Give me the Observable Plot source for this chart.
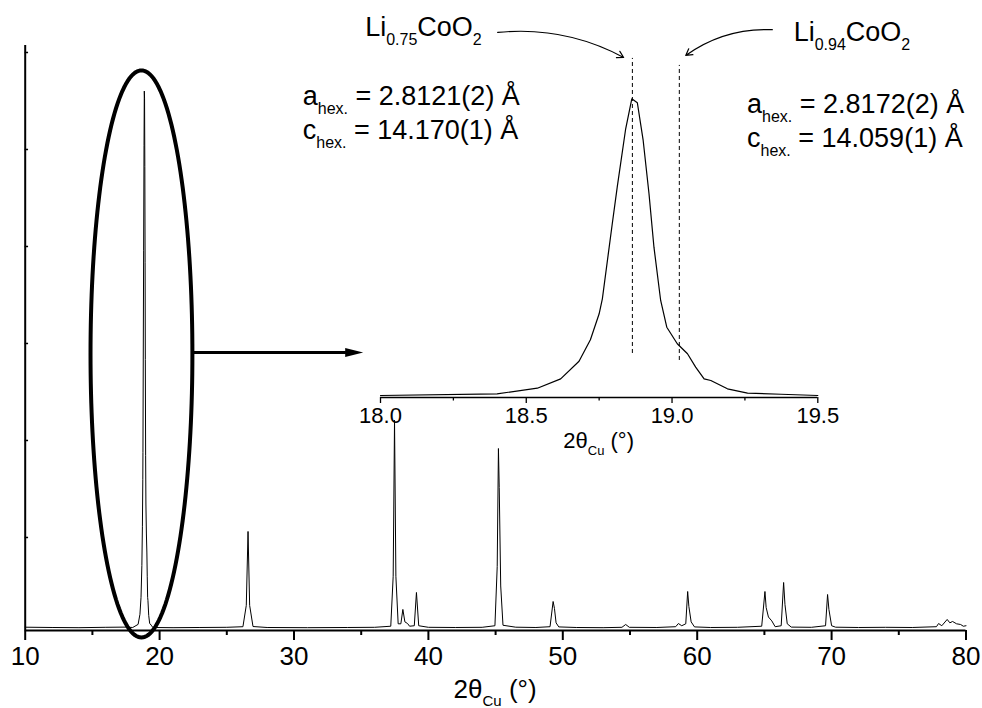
<!DOCTYPE html>
<html><head><meta charset="utf-8">
<script src="https://cdn.jsdelivr.net/npm/d3@7"></script>
<script src="https://cdn.jsdelivr.net/npm/@observablehq/plot@0.6"></script>
<style>
body{margin:0;background:#fff;}
#wrap{position:relative;width:982px;height:708px;font-family:"Liberation Sans",Arial,sans-serif;}
#wrap svg{position:absolute;left:0;top:0;overflow:visible;}
text{white-space:pre;}
</style></head><body><div id="wrap"></div>
<script>
const FONT = '"Liberation Sans", Arial, sans-serif';

// XRD pattern: 2θ (°) and intensity (counts, arbitrary)
const twoTheta = [10.0,12.0,14.0,16.0,17.5,
  18.0,18.4,18.538,18.618,18.681,18.72,18.75,18.761,18.795,18.812,18.841,18.862,18.881,18.901,18.921,18.938,18.961,18.982,19.018,19.053,19.081,19.11,19.133,19.19,19.259,19.374,19.5,
  21,23,25,26.2,26.45,26.58,26.7,26.95,28,31,34,36,
  37.2,37.38,37.48,37.58,37.75,37.95,38.1,38.25,38.45,38.6,38.95,39.11,39.28,40,42,44,
  44.95,45.12,45.21,45.27,45.38,45.55,46.5,48,
  49.05,49.28,49.38,49.5,49.7,51,53,54.4,54.68,54.95,57,
  58.4,58.6,58.85,59.15,59.29,59.38,59.55,59.8,61,63,
  64.8,65.04,65.13,65.3,65.55,65.8,66.25,66.43,66.53,66.7,67,68.5,
  69.55,69.70,69.80,70.0,70.3,72,74,76,
  77.8,77.96,78.2,78.6,78.8,79.0,79.3,79.6,79.8,80];
const intensity = [75,72,70,74,76,
  72,104,208,383,711,1110,1595,1874,3273,3955,5043,5602,5528,4825,3832,2836,1843,1345,1036,850,601,383,352,197,115,96,72,
  70,72,74,80,300,1062,300,82,72,70,72,74,
  85,600,2210,600,110,110,258,130,113,85,90,433,90,74,72,74,
  90,700,1917,1515,500,95,75,72,
  80,340,268,120,78,72,70,74,103,74,72,
  80,113,90,110,443,289,130,78,72,74,
  85,443,278,180,140,80,90,536,309,110,76,74,
  90,412,258,90,75,72,74,72,
  80,113,90,155,120,134,110,103,85,90];

// main axes
const mainXDomain = [10, 80];
const mainYDomain = [41, 6072];
const majorTicks = [10, 20, 30, 40, 50, 60, 70, 80];
const minorTicks = [15, 25, 35, 45, 55, 65, 75];
const yTicks = [1000, 2000, 3000, 4000, 5000, 6000];

// inset axes
const insetXDomain = [18, 19.5];
const insetYDomain = [35, 6315];
const insetMajor = [18.0, 18.5, 19.0, 19.5];
const insetMinor = [18.25, 18.75, 19.25];

// dashed reflection positions of the two phases
const phaseNames = ["Li0.75CoO2", "Li0.94CoO2"];
const phasePos = [18.864, 19.025];
const phaseTop = [6354, 6223];
const phaseBottom = [855, 725];

// annotation ellipse (main plot units) and arrow
const ellipseCenter = [18.65, 2892];
const ellipseRadii = [3.79, 2923];
const zoomArrow = {x1: 22.51, x2: 33.9, head: 34.48, y: 2907};

// curved arrows (inset units)
const curveArrows = [
  {x1: 18.402, y1: 6838, x2: 18.834, y2: 6372, bend: 17},
  {x1: 19.344, y1: 6889, x2: 19.047, y2: 6410, bend: -19}
];

// text annotations (inset units)
const labelX = [17.949, 19.419, 17.735, 17.735, 19.259, 19.259];
const labelY = [6764, 6671, 5478, 4835, 5328, 4695];
const labelParts = [
  [["Li"], ["0.75", 1], ["CoO"], ["2", 1]],
  [["Li"], ["0.94", 1], ["CoO"], ["2", 1]],
  [["a"], ["hex.", 1], [" = 2.8121(2) Å"]],
  [["c"], ["hex.", 1], [" = 14.170(1) Å"]],
  [["a"], ["hex.", 1], [" = 2.8172(2) Å"]],
  [["c"], ["hex.", 1], [" = 14.059(1) Å"]]
];
const axisTitleParts = [["2θ"], ["Cu", 1], [" (°)"]];

const data = twoTheta.map((x, i) => ({x, y: intensity[i]}));
const insetData = data.filter(d => d.x >= insetXDomain[0] && d.x <= insetXDomain[1]);

const ellipse = d3.range(0, 181).map(i => {
  const t = i / 180 * 2 * Math.PI;
  return {x: ellipseCenter[0] + ellipseRadii[0] * Math.cos(t), y: ellipseCenter[1] + ellipseRadii[1] * Math.sin(t)};
});

const arrowHead = {draw(ctx) { ctx.moveTo(9, 0); ctx.lineTo(-9, -4.5); ctx.lineTo(-9, 4.5); ctx.closePath(); }};

const W = 982, H = 708;
const main = Plot.plot({
  width: W, height: H,
  marginLeft: 24.7, marginRight: W - 965.5, marginTop: 45, marginBottom: 78,
  x: {domain: mainXDomain, axis: null, label: null},
  y: {domain: mainYDomain, axis: null, label: null},
  style: {background: "transparent", fontFamily: FONT, color: "black", overflow: "visible"},
  marks: [
    Plot.line(data, {x: "x", y: "y", stroke: "black", strokeWidth: 1}),
    Plot.ruleY([mainYDomain[0]], {stroke: "black", strokeWidth: 2}),
    Plot.ruleX([mainXDomain[0]], {stroke: "black", strokeWidth: 2}),
    Plot.ruleY(yTicks, {x1: 10, x2: 10.25, stroke: "black", strokeWidth: 1.5}),
    Plot.axisX({ticks: majorTicks, tickSize: 10, tickPadding: 6, fontSize: 26, strokeWidth: 2, label: null, tickFormat: d => String(d)}),
    Plot.axisX({ticks: minorTicks, tickSize: 5, strokeWidth: 2, label: null, tickFormat: () => ""}),
    Plot.line(ellipse, {x: "x", y: "y", stroke: "black", strokeWidth: 4}),
    Plot.ruleY([zoomArrow], {x1: "x1", x2: "x2", y: "y", stroke: "black", strokeWidth: 3}),
    Plot.dot([zoomArrow], {x: "head", y: "y", symbol: arrowHead, fill: "black", stroke: null})
  ]
});

const inset = Plot.plot({
  width: W, height: H,
  marginLeft: 380, marginRight: W - 817.3, marginTop: 60, marginBottom: H - 397,
  x: {domain: insetXDomain, axis: null, label: null},
  y: {domain: insetYDomain, axis: null, label: null},
  style: {background: "transparent", fontFamily: FONT, color: "black", overflow: "visible"},
  marks: [
    Plot.line(insetData, {x: "x", y: "y", stroke: "black", strokeWidth: 1.2}),
    Plot.ruleY([insetYDomain[0]], {stroke: "black", strokeWidth: 1.3}),
    Plot.axisX({ticks: insetMajor, tickSize: 6, tickPadding: 4, fontSize: 22, strokeWidth: 1.3, label: null, tickFormat: d3.format(".1f")}),
    Plot.axisX({ticks: insetMinor, tickSize: 3.5, strokeWidth: 1.3, label: null, tickFormat: () => ""}),
    Plot.ruleX(phasePos.map((x, i) => ({x, top: phaseTop[i], bottom: phaseBottom[i]})), {x: "x", y1: "bottom", y2: "top", stroke: "black", strokeWidth: 1, strokeDasharray: "4,3"}),
    Plot.arrow([curveArrows[0]], {x1: "x1", y1: "y1", x2: "x2", y2: "y2", bend: curveArrows[0].bend, stroke: "black", strokeWidth: 1.2, headLength: 9}),
    Plot.arrow([curveArrows[1]], {x1: "x1", y1: "y1", x2: "x2", y2: "y2", bend: curveArrows[1].bend, stroke: "black", strokeWidth: 1.2, headLength: 9})
  ]
});

const wrap = document.getElementById("wrap");
wrap.appendChild(main);
wrap.appendChild(inset);

function scaleOf(plot, name) {
  const s = plot.scale(name);
  return d3.scaleLinear(s.domain, s.range);
}
function rich(svg, x, y, parts, size, subSize, shift, anchor) {
  const t = d3.select(svg).append("text")
    .attr("x", x).attr("y", y).attr("font-size", size)
    .attr("font-family", FONT).attr("fill", "black")
    .attr("text-anchor", anchor || "start");
  let off = 0;
  parts.forEach(([s, sub]) => {
    const target = sub ? shift : 0;
    const sp = t.append("tspan").attr("dy", target - off).text(s);
    if (sub) sp.attr("font-size", subSize);
    off = target;
  });
}

const ix = scaleOf(inset, "x"), iy = scaleOf(inset, "y");
labelParts.forEach((parts, i) => {
  rich(inset, ix(labelX[i]), iy(labelY[i]), parts, 27, 16, 9);
});
const mx = scaleOf(main, "x");
rich(main, (mx(mainXDomain[0]) + mx(mainXDomain[1])) / 2, H - 10, axisTitleParts, 26, 15, 8, "middle");
rich(inset, (ix(insetXDomain[0]) + ix(insetXDomain[1])) / 2, 448, axisTitleParts, 22, 13, 7, "middle");
</script>
</body></html>
